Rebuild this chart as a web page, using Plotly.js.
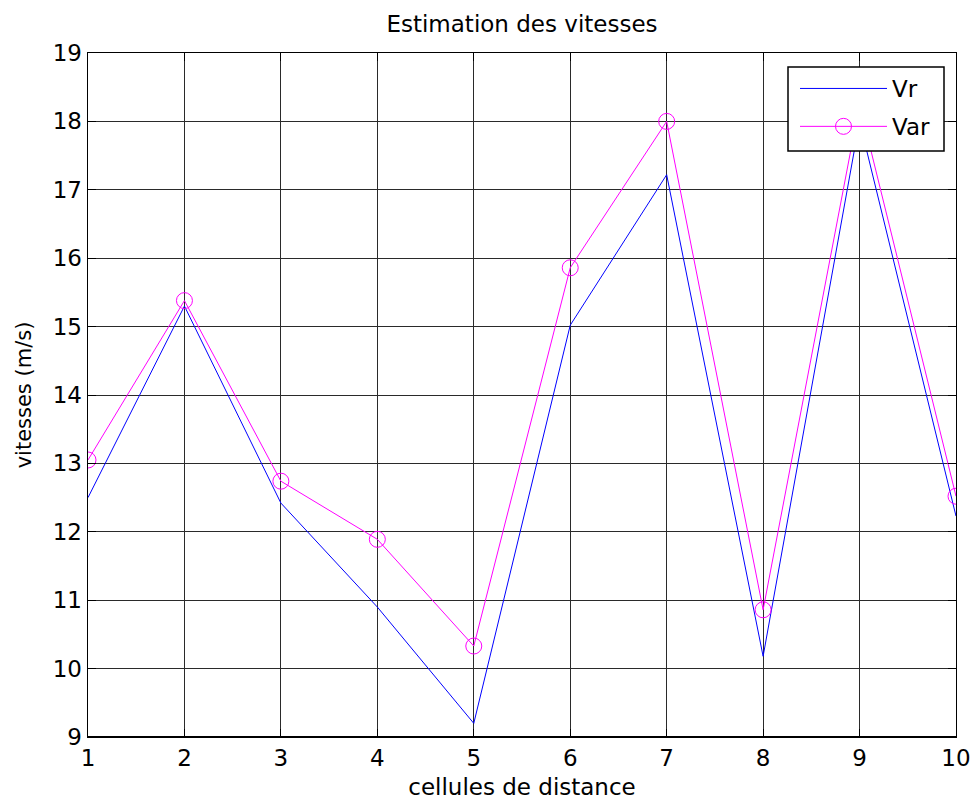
<!DOCTYPE html>
<html>
<head>
<meta charset="utf-8">
<script src="https://cdn.plot.ly/plotly-3.0.1.min.js"></script>
<style>html,body{margin:0;padding:0;background:#fff;}#chart{width:973px;height:805px;}</style>
</head>
<body>
<div id="chart"></div>
<script>
const cells = [1, 2, 3, 4, 5, 6, 7, 8, 9, 10];
const vr  = [12.5, 15.3, 12.42, 10.9, 9.2, 15.02, 17.22, 10.18, 18.0, 12.23];
const varV = [13.05, 15.38, 12.74, 11.89, 10.33, 15.86, 18.0, 10.86, 18.25, 12.52];
const xTicks = [1, 2, 3, 4, 5, 6, 7, 8, 9, 10];
const yTicks = [9, 10, 11, 12, 13, 14, 15, 16, 17, 18, 19];

const font = 'DejaVu Sans, Liberation Sans, Arial, sans-serif';

const traces = [
  {x: cells, y: vr, name: 'Vr', type: 'scatter', mode: 'lines', legendgroup: 'a',
   line: {color: '#0000ff', width: 1}},
  {x: cells, y: varV, name: 'Var', type: 'scatter', mode: 'lines+markers', legendgroup: 'b',
   line: {color: '#ff00ff', width: 1},
   marker: {symbol: 'circle-open', size: 16, color: '#ff00ff', line: {width: 1, color: '#ff00ff'}}}
];

const axisCommon = {
  showline: true, linecolor: '#000', linewidth: 1.4, mirror: 'ticks',
  ticks: 'inside', ticklen: 8, tickcolor: '#000', tickwidth: 1,
  showgrid: true, gridcolor: '#2a2a2a', gridwidth: 1,
  zeroline: false, tickfont: {family: font, size: 23, color: '#000'}
};

const layout = {
  width: 973, height: 805,
  margin: {l: 88, r: 17, t: 53, b: 68},
  paper_bgcolor: '#fff', plot_bgcolor: '#fff',
  showlegend: true,
  title: {text: 'Estimation des vitesses', font: {family: font, size: 23, color: '#000'},
          x: 0.5, xref: 'paper', xanchor: 'center', y: 1 - 24/805, yref: 'container', yanchor: 'middle'},
  xaxis: Object.assign({}, axisCommon, {
    range: [1, 10], tickvals: xTicks, ticktext: xTicks.map(String),
    title: {text: 'cellules de distance', font: {family: font, size: 23, color: '#000'}, standoff: 9}
  }),
  yaxis: Object.assign({}, axisCommon, {
    range: [9, 19], tickvals: yTicks, ticktext: yTicks.map(String),
    title: {text: 'vitesses (m/s)', font: {family: font, size: 21, color: '#000'}, standoff: 15}
  }),
  shapes: [
    {type: 'rect', xref: 'paper', yref: 'paper', x0: (788-88)/868, x1: (944-88)/868,
     y0: 1 - (151-53)/684, y1: 1 - (67-53)/684, fillcolor: '#fff',
     line: {color: '#000', width: 1.5}, layer: 'above'},
    {type: 'line', xref: 'paper', yref: 'paper', x0: 0, x1: 1, y0: 0, y1: 0,
     line: {color: '#000', width: 2.2}, layer: 'above'}
  ],
  legend: {
    x: (795-88)/868, xanchor: 'left', y: 1 - (67-53)/684, yanchor: 'top',
    bgcolor: 'rgba(0,0,0,0)', borderwidth: 0,
    font: {family: font, size: 23, color: '#000'},
    itemwidth: 87, tracegroupgap: 5
  }
};

Plotly.newPlot('chart', traces, layout, {displayModeBar: false, staticPlot: true});
</script>
</body>
</html>
